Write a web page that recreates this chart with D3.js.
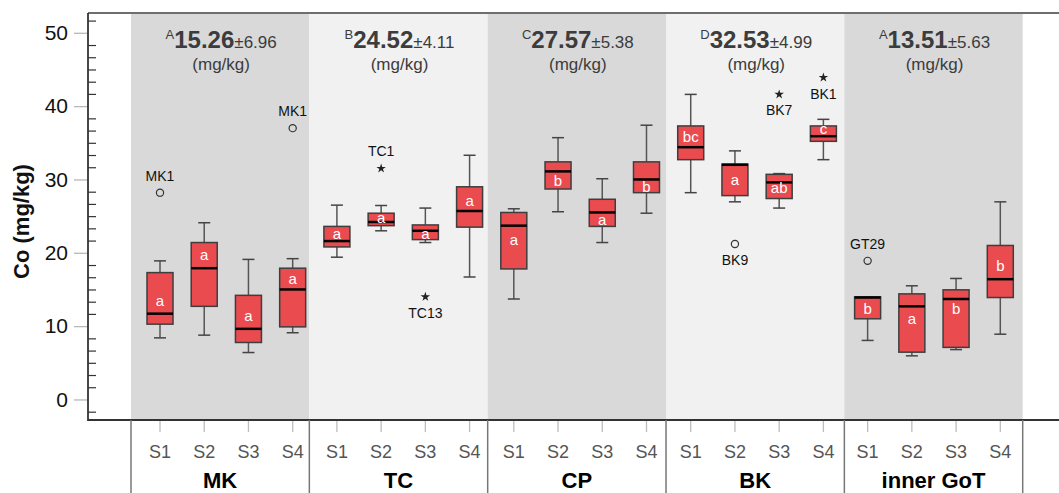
<!DOCTYPE html>
<html>
<head>
<meta charset="utf-8">
<script src="https://cdn.jsdelivr.net/npm/d3@7"></script>
<style>
  html, body { margin: 0; padding: 0; background: #fff; }
  svg { display: block; font-family: "Liberation Sans", Arial, sans-serif; }
</style>
</head>
<body>
<svg id="chart" width="1059" height="493"></svg>
<script>
// ---- data ----
const groups = ["MK", "TC", "CP", "BK", "inner GoT"];
const sites = ["S1", "S2", "S3", "S4"];
const groupLetter = ["A", "B", "C", "D", "A"];
const groupMean = [15.26, 24.52, 27.57, 32.53, 13.51];
const groupSD = [6.96, 4.11, 5.38, 4.99, 5.63];

// per box, order: MK S1..S4, TC S1..S4, CP S1..S4, BK S1..S4, inner GoT S1..S4
const whiskerHigh = [18.9, 24.1, 19.1, 19.2,  26.5, 26.45, 26.1, 33.3,  26.0, 35.7, 30.1, 37.4,  41.6, 33.9, 30.8, 38.2,  14.0, 15.5, 16.5, 26.95];
const q3          = [17.3, 21.4, 14.2, 17.9,  23.6, 25.4, 23.8, 29.0,   25.5, 32.4, 27.3, 32.4,  37.3, 32.1, 30.7, 37.3,  14.0, 14.4, 14.95, 21.0];
const median      = [11.7, 17.9, 9.63, 15.0,  21.6, 24.2, 23.0, 25.7,   23.7, 31.1, 25.5, 30.0,  34.4, 32.0, 29.6, 35.9,  13.9, 12.7, 13.7, 16.4];
const q1          = [10.27, 12.7, 7.77, 9.9,  20.8, 23.7, 21.8, 23.5,   17.8, 28.7, 23.6, 28.2,  32.7, 27.8, 27.4, 35.2,  11.0, 6.45, 7.1, 13.9];
const whiskerLow  = [8.4, 8.77, 6.4, 9.1,     19.4, 23.0, 21.4, 16.7,   13.7, 25.6, 21.4, 25.4,  28.2, 26.95, 26.1, 32.7, 8.05, 5.95, 6.8, 8.9];
const letters     = ["a","a","a","a",  "a","a","a","a",  "a","b","a","b",  "bc","a","ab","c",  "b","a","b","b"];
const letterAt    = [13.4, 19.7, 11.4, 16.4,  22.6, 24.8, 22.5, 27.1,  21.7, 29.8, 24.45, 29.0,  35.8, 29.9, 28.9, 36.9,  12.4, 10.95, 12.4, 18.2];

const outlierGroup = ["MK", "MK", "TC", "TC", "BK", "BK", "BK", "inner GoT"];
const outlierSite  = ["S1", "S4", "S2", "S3", "S2", "S3", "S4", "S1"];
const outlierValue = [28.2, 37.0, 31.5, 14.0, 21.2, 41.6, 43.9, 18.9];
const outlierKind  = ["circle", "circle", "star", "star", "circle", "star", "star", "circle"];
const outlierLabel = ["MK1", "MK1", "TC1", "TC13", "BK9", "BK7", "BK1", "GT29"];
const outlierSide  = ["above", "above", "above", "below", "below", "below", "below", "above"];

const yTicks = [0, 10, 20, 30, 40, 50];

// ---- layout ----
const svg = d3.select("#chart");
const W = 1059, H = 493;
const axisX = 88, topY = 13, bottomY = 420;
const bandL = 131, bandR = 1022.7;

const y = d3.scaleLinear().domain([-2.8, 52.7]).range([bottomY, topY]);
const gx = d3.scaleBand().domain(groups).range([bandL, bandR]).padding(0);
const keys = [];
groups.forEach(g => sites.forEach(s => keys.push(g + "|" + s)));
const cx = d3.scalePoint().domain(keys).range([160, 1000.3]);

const boxes = keys.map((k, i) => ({
  key: k, group: k.split("|")[0], site: k.split("|")[1],
  hi: whiskerHigh[i], q3: q3[i], med: median[i], q1: q1[i], lo: whiskerLow[i],
  letter: letters[i], letterAt: letterAt[i]
}));

// group background bands
svg.append("g").selectAll("rect").data(groups).join("rect")
  .attr("x", d => gx(d)).attr("y", topY)
  .attr("width", gx.bandwidth()).attr("height", bottomY - topY)
  .attr("fill", (d, i) => i % 2 === 0 ? "#d9d9d9" : "#f1f1f1");

// frame lines
svg.append("line").attr("x1", axisX).attr("x2", W).attr("y1", topY).attr("y2", topY)
  .attr("stroke", "#6e6e6e").attr("stroke-width", 2);

// y axis: major ticks outside (left)
const yAxis = d3.axisLeft(y).tickValues(yTicks).tickSize(14).tickPadding(6).tickFormat(d3.format("d"));
const ya = svg.append("g").attr("transform", `translate(${axisX},0)`).call(yAxis);
ya.select(".domain").remove();
ya.selectAll(".tick line").attr("stroke", "#b8b8b8").attr("stroke-width", 1.3);
ya.selectAll(".tick text").attr("fill", "#111").attr("font-size", 21)
  .attr("font-family", "'Liberation Sans', Arial, sans-serif");

// minor ticks inside (right)
const minor = d3.range(-10 / 6, 52.5, 10 / 6).filter(v => Math.abs(v / 10 - Math.round(v / 10)) > 0.01);
const yMinor = d3.axisRight(y).tickValues(minor).tickSize(8).tickFormat("");
const ym = svg.append("g").attr("transform", `translate(${axisX},0)`).call(yMinor);
ym.select(".domain").remove();
ym.selectAll(".tick line").attr("stroke", "#333").attr("stroke-width", 1.2);

svg.append("line").attr("x1", axisX).attr("x2", axisX).attr("y1", topY).attr("y2", bottomY + 1)
  .attr("stroke", "#333").attr("stroke-width", 1.8);
svg.append("line").attr("x1", axisX).attr("x2", W).attr("y1", bottomY).attr("y2", bottomY)
  .attr("stroke", "#333").attr("stroke-width", 1.8);

// y label
svg.append("text")
  .attr("transform", `translate(29,${(topY + bottomY) / 2 + 5}) rotate(-90)`)
  .attr("text-anchor", "middle").attr("font-size", 22).attr("font-weight", "bold")
  .attr("fill", "#111").text("Co (mg/kg)");

// group headers
const head = svg.append("g");
groups.forEach((g, i) => {
  const x = gx(g) + gx.bandwidth() / 2 + 1;
  const t = head.append("text").attr("x", x).attr("y", 48).attr("text-anchor", "middle").attr("fill", "#3c3c3c");
  t.append("tspan").attr("font-size", 13).attr("dy", -9).text(groupLetter[i]);
  t.append("tspan").attr("font-size", 24).attr("font-weight", "bold").attr("dy", 9).text(groupMean[i].toFixed(2));
  t.append("tspan").attr("font-size", 17).text("±" + groupSD[i].toFixed(2));
  head.append("text").attr("x", x).attr("y", 70).attr("text-anchor", "middle")
    .attr("font-size", 17).attr("fill", "#3c3c3c").text("(mg/kg)");
});

// boxes
const boxW = 26, capW = 12;
const bg = svg.append("g").selectAll("g").data(boxes).join("g")
  .attr("transform", d => `translate(${cx(d.key)},0)`);
bg.append("line").attr("x1", 0).attr("x2", 0).attr("y1", d => y(d.hi)).attr("y2", d => y(d.lo))
  .attr("stroke", "#555").attr("stroke-width", 1.5);
bg.append("line").attr("x1", -capW / 2).attr("x2", capW / 2).attr("y1", d => y(d.hi)).attr("y2", d => y(d.hi))
  .attr("stroke", "#444").attr("stroke-width", 1.5);
bg.append("line").attr("x1", -capW / 2).attr("x2", capW / 2).attr("y1", d => y(d.lo)).attr("y2", d => y(d.lo))
  .attr("stroke", "#444").attr("stroke-width", 1.5);
bg.append("rect").attr("x", -boxW / 2).attr("width", boxW)
  .attr("y", d => y(d.q3)).attr("height", d => y(d.q1) - y(d.q3))
  .attr("fill", "#ea4b4f").attr("stroke", "#3e3e3e").attr("stroke-width", 1.5);
bg.append("line").attr("x1", -boxW / 2).attr("x2", boxW / 2).attr("y1", d => y(d.med)).attr("y2", d => y(d.med))
  .attr("stroke", "#000").attr("stroke-width", 2.5);
bg.append("text").attr("x", 0).attr("y", d => y(d.letterAt) + 5).attr("text-anchor", "middle")
  .attr("font-size", 15).attr("fill", "#fff").text(d => d.letter);

// outliers
const outs = outlierValue.map((v, i) => ({
  key: outlierGroup[i] + "|" + outlierSite[i], v, kind: outlierKind[i], label: outlierLabel[i], side: outlierSide[i]
}));
const og = svg.append("g").selectAll("g").data(outs).join("g")
  .attr("transform", d => `translate(${cx(d.key)},${y(d.v)})`);
og.filter(d => d.kind === "circle").append("circle").attr("r", 3.6)
  .attr("fill", "none").attr("stroke", "#333").attr("stroke-width", 1.2);
og.filter(d => d.kind === "star").append("path")
  .attr("d", d3.symbol().type(d3.symbolStar).size(28)).attr("fill", "#222");
og.append("text").attr("text-anchor", "middle").attr("font-size", 14).attr("fill", "#111")
  .attr("y", d => d.side === "above" ? -12 : 21).text(d => d.label);

// bottom category axis
const bx = svg.append("g");
bx.selectAll("line.ct").data(keys).join("line").attr("class", "ct")
  .attr("x1", d => cx(d)).attr("x2", d => cx(d)).attr("y1", bottomY + 1).attr("y2", bottomY + 12)
  .attr("stroke", "#bdbdbd").attr("stroke-width", 1.3);
bx.selectAll("text.cl").data(keys).join("text").attr("class", "cl")
  .attr("x", d => cx(d)).attr("y", 458).attr("text-anchor", "middle")
  .attr("font-size", 18).attr("fill", "#555").text(d => d.split("|")[1]);
const edges = groups.map(g => gx(g)).concat([bandR]);
bx.selectAll("line.sep").data(edges).join("line").attr("class", "sep")
  .attr("x1", d => d).attr("x2", d => d).attr("y1", bottomY).attr("y2", H)
  .attr("stroke", "#777").attr("stroke-width", 1.5);
bx.selectAll("text.gl").data(groups).join("text").attr("class", "gl")
  .attr("x", d => gx(d) + gx.bandwidth() / 2).attr("y", 488).attr("text-anchor", "middle")
  .attr("font-size", 22).attr("font-weight", "bold").attr("fill", "#000").text(d => d);
</script>
</body>
</html>
